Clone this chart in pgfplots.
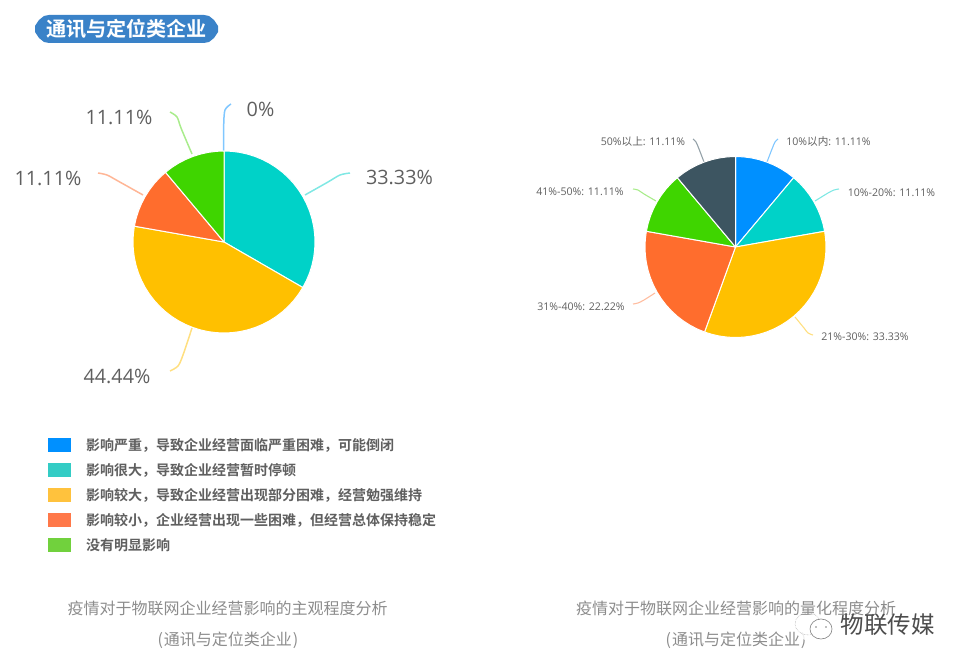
\documentclass[border=0pt]{standalone}
\usepackage{fontspec}
\usepackage{pgfplots}
\pgfplotsset{compat=1.18}
\usepgfplotslibrary{polar}
\setmainfont{Open Sans}
\newfontfamily\cjk{Noto Sans CJK SC}[BoldFont={Noto Sans CJK SC Bold}]
\definecolor{cblue}{HTML}{0090FF}
\definecolor{cteal}{HTML}{00D2C8}
\definecolor{cyel}{HTML}{FFC000}
\definecolor{cora}{HTML}{FF6D2D}
\definecolor{cgre}{HTML}{3FD500}
\definecolor{cdark}{HTML}{3D5561}
\definecolor{lteal}{HTML}{33CCC5}
\definecolor{lyel}{HTML}{FFC23D}
\definecolor{lora}{HTML}{FF7849}
\definecolor{lgre}{HTML}{71D13D}
\definecolor{txt}{HTML}{5F5F5F}
\definecolor{cap}{HTML}{8C8C8C}
\definecolor{head}{HTML}{3A82C8}
\begin{document}
\begin{tikzpicture}
\path[use as bounding box] (0,0) rectangle (966pt,669pt);
\begin{axis}[at={(0,0)},anchor=south west,width=966pt,height=669pt,scale only axis,
  xmin=0,xmax=966,ymin=0,ymax=669,y dir=reverse,hide axis,clip=false]
% header pill
\addplot[fill=head,draw=none] coordinates {(49,15)(204,15)(209,16)(214,20)(218,26)(218,32)(214,38)(209,42)(204,43)(49,43)(44,42)(39,38)(35,32)(35,26)(39,20)(44,16)} -- cycle;
\node[text=white,font=\cjk\bfseries\fontsize{20.1}{21}\selectfont,anchor=center] at (axis cs:126.5,29) {通讯与定位类企业};
% leaders, left pie
\addplot[smooth,line width=1.5pt,color=cblue!50!white,forget plot] coordinates {(223.7,151)(223.7,125)(225,110)(231,104)};
\addplot[smooth,line width=1.5pt,color=cteal!50!white,forget plot] coordinates {(305,195)(328,182)(340,175)(350,173)};
\addplot[smooth,line width=1.5pt,color=cyel!50!white,forget plot] coordinates {(192,328)(183,355)(178,366)(170,371)};
\addplot[smooth,line width=1.5pt,color=cora!50!white,forget plot] coordinates {(143,195)(118,181)(107,175)(98,173)};
\addplot[smooth,line width=1.5pt,color=cgre!45!white,forget plot] coordinates {(192,154)(181,128)(177,117)(170,112)};
% leaders, right pie
\addplot[smooth,line width=1.1pt,color=cblue!50!white,forget plot] coordinates {(767,162)(772,149)(775,142)(778,139)};
\addplot[smooth,line width=1.1pt,color=cteal!50!white,forget plot] coordinates {(815,201)(828,193)(834,190)(839,189)};
\addplot[smooth,line width=1.1pt,color=cyel!50!white,forget plot] coordinates {(795,317)(804,328)(808,333)(813,335)};
\addplot[smooth,line width=1.1pt,color=cora!45!white,forget plot] coordinates {(655,293)(644,300)(638,303)(633,304)};
\addplot[smooth,line width=1.1pt,color=cgre!45!white,forget plot] coordinates {(656,201)(644,194)(638,190)(633,189)};
\addplot[smooth,line width=1.1pt,color=cdark!55!white,forget plot] coordinates {(704,162)(699,149)(696,142)(693,139)};
% left pie labels
\begin{scope}[every node/.style={text=txt,font=\fontsize{19.8}{20}\selectfont,anchor=center}]
\node at (axis cs:260.5,109) {0\%};
\node at (axis cs:399.5,177) {33.33\%};
\node at (axis cs:117,376) {44.44\%};
\node at (axis cs:48,178) {11.11\%};
\node at (axis cs:119,117) {11.11\%};
\end{scope}
% right pie labels
\begin{scope}[every node/.style={text=txt,font=\fontsize{10.6}{11}\selectfont,anchor=center}]
\node at (axis cs:828.5,142) {10\%{\cjk 以内}: 11.11\%};
\node at (axis cs:891.5,192.5) {10\%-20\%: 11.11\%};
\node at (axis cs:865,337) {21\%-30\%: 33.33\%};
\node at (axis cs:581,307) {31\%-40\%: 22.22\%};
\node at (axis cs:580,192) {41\%-50\%: 11.11\%};
\node at (axis cs:643,142) {50\%{\cjk 以上}: 11.11\%};
\end{scope}
% legend
\addplot[fill=cblue,draw=none] coordinates {(48,438)(71,438)(71,452)(48,452)} -- cycle;
\addplot[fill=lteal,draw=none] coordinates {(48,463)(71,463)(71,477)(48,477)} -- cycle;
\addplot[fill=lyel,draw=none] coordinates {(48,488)(71,488)(71,502)(48,502)} -- cycle;
\addplot[fill=lora,draw=none] coordinates {(48,513)(71,513)(71,527)(48,527)} -- cycle;
\addplot[fill=lgre,draw=none] coordinates {(48,538)(71,538)(71,552)(48,552)} -- cycle;
\begin{scope}[every node/.style={text=txt,font=\cjk\bfseries\fontsize{14}{14}\selectfont,anchor=west,inner sep=0pt}]
\node at (axis cs:86,445.5) {影响严重，导致企业经营面临严重困难，可能倒闭};
\node at (axis cs:86,470.5) {影响很大，导致企业经营暂时停顿};
\node at (axis cs:86,495.5) {影响较大，导致企业经营出现部分困难，经营勉强维持};
\node at (axis cs:86,520.5) {影响较小，企业经营出现一些困难，但经营总体保持稳定};
\node at (axis cs:86,545) {没有明显影响};
\end{scope}
% captions
\begin{scope}[every node/.style={text=cap,font=\cjk\fontsize{16}{16}\selectfont,anchor=center}]
\node at (axis cs:227.5,608) {疫情对于物联网企业经营影响的主观程度分析};
\node at (axis cs:228,640) {(\kern1pt 通讯与定位类企业\kern1pt)};
\node at (axis cs:736,608) {疫情对于物联网企业经营影响的量化程度分析};
\node at (axis cs:736,640) {(\kern1pt 通讯与定位类企业\kern1pt)};
\end{scope}
% watermark
\fill[white,opacity=.85] (axis cs:816,628) ellipse [x radius=21pt,y radius=14pt];
\draw[gray!70,line width=.5pt,densely dotted] (axis cs:808,624) ellipse [x radius=13pt,y radius=11pt];
\draw[gray,line width=.6pt,fill=white] (axis cs:821,629) ellipse [x radius=11pt,y radius=10pt];
\fill[gray] (axis cs:816,627) circle [radius=.9pt];
\fill[gray] (axis cs:826,627) circle [radius=.9pt];
\node[text=black!70,font=\cjk\fontsize{23.5}{24}\selectfont,anchor=center] at (axis cs:887.5,625) {物联传媒};
\end{axis}

% left pie: angles in degrees, 0% 33.33% 44.44% 11.11% 11.11% clockwise from 12 o'clock
\begin{polaraxis}[at={(224pt,427pt)},anchor=center,width=182pt,height=182pt,scale only axis,
  xmin=0,xmax=360,ymin=0,ymax=1,hide axis,clip=false]
\addplot[fill=cteal,draw=white,line width=1pt,line join=round] coordinates {(0,0)(90,1)(85,1)(80,1)(75,1)(70,1)(65,1)(60,1)(55,1)(50,1)(45,1)(40,1)(35,1)(30,1)(25,1)(20,1)(15,1)(10,1)(5,1)(0,1)(-5,1)(-10,1)(-15,1)(-20,1)(-25,1)(-30,1)} -- cycle;
\addplot[fill=cyel,draw=white,line width=1pt,line join=round] coordinates {(0,0)(-30,1)(-35,1)(-40,1)(-45,1)(-50,1)(-55,1)(-60,1)(-65,1)(-70,1)(-75,1)(-80,1)(-85,1)(-90,1)(-95,1)(-100,1)(-105,1)(-110,1)(-115,1)(-120,1)(-125,1)(-130,1)(-135,1)(-140,1)(-145,1)(-150,1)(-155,1)(-160,1)(-165,1)(-170,1)(-175,1)(-180,1)(-185,1)(-190,1)} -- cycle;
\addplot[fill=cora,draw=white,line width=1pt,line join=round] coordinates {(0,0)(170,1)(165,1)(160,1)(155,1)(150,1)(145,1)(140,1)(135,1)(130,1)} -- cycle;
\addplot[fill=cgre,draw=white,line width=1pt,line join=round] coordinates {(0,0)(130,1)(125,1)(120,1)(115,1)(110,1)(105,1)(100,1)(95,1)(90,1)} -- cycle;
\end{polaraxis}

% right pie: 11.11 11.11 33.33 22.22 11.11 11.11 clockwise from 12 o'clock
\begin{polaraxis}[at={(735.5pt,422pt)},anchor=center,width=181pt,height=181pt,scale only axis,
  xmin=0,xmax=360,ymin=0,ymax=1,hide axis,clip=false]
\addplot[fill=cblue,draw=white,line width=1pt,line join=round] coordinates {(0,0)(90,1)(85,1)(80,1)(75,1)(70,1)(65,1)(60,1)(55,1)(50,1)} -- cycle;
\addplot[fill=cteal,draw=white,line width=1pt,line join=round] coordinates {(0,0)(50,1)(45,1)(40,1)(35,1)(30,1)(25,1)(20,1)(15,1)(10,1)} -- cycle;
\addplot[fill=cyel,draw=white,line width=1pt,line join=round] coordinates {(0,0)(10,1)(5,1)(0,1)(-5,1)(-10,1)(-15,1)(-20,1)(-25,1)(-30,1)(-35,1)(-40,1)(-45,1)(-50,1)(-55,1)(-60,1)(-65,1)(-70,1)(-75,1)(-80,1)(-85,1)(-90,1)(-95,1)(-100,1)(-105,1)(-110,1)} -- cycle;
\addplot[fill=cora,draw=white,line width=1pt,line join=round] coordinates {(0,0)(250,1)(245,1)(240,1)(235,1)(230,1)(225,1)(220,1)(215,1)(210,1)(205,1)(200,1)(195,1)(190,1)(185,1)(180,1)(175,1)(170,1)} -- cycle;
\addplot[fill=cgre,draw=white,line width=1pt,line join=round] coordinates {(0,0)(170,1)(165,1)(160,1)(155,1)(150,1)(145,1)(140,1)(135,1)(130,1)} -- cycle;
\addplot[fill=cdark,draw=white,line width=1pt,line join=round] coordinates {(0,0)(130,1)(125,1)(120,1)(115,1)(110,1)(105,1)(100,1)(95,1)(90,1)} -- cycle;
\end{polaraxis}
\end{tikzpicture}
\end{document}
